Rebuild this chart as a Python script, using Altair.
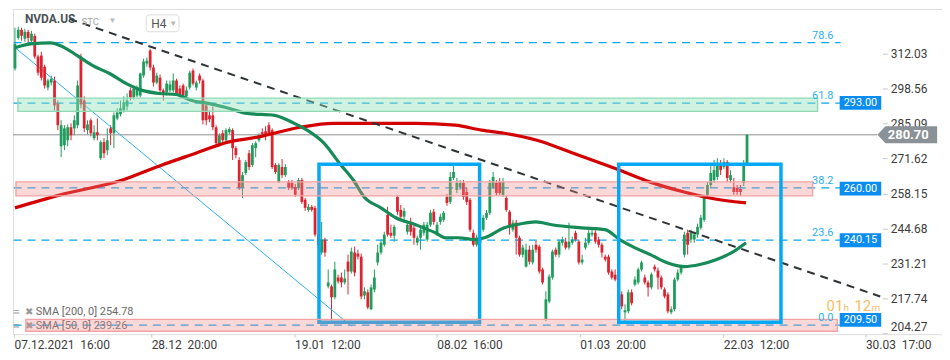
import altair as alt
import pandas as pd

# ---------------- data ----------------
OPEN = [306.2, 318.0, 321.1, 317.7, 320.3, 316.9, 318.8, 310.8, 311.2, 306.9,
        298.9, 300.8, 301.6, 292.8, 276.3, 276.7, 278.6, 283.6, 283.2, 284.4,
        310.8, 293.9, 282.5, 286.3, 279.4, 281.7, 271.7, 277.9, 274.8, 283.2,
        281.3, 287.0, 288.6, 290.1, 291.6, 297.8, 295.1, 295.8, 295.8, 303.5,
        308.1, 313.1, 306.6, 300.8, 302.7, 297.8, 297.0, 297.8, 297.8, 301.6,
        298.5, 299.7, 295.5, 298.9, 305.4, 298.9, 303.5, 301.6, 292.0, 288.2,
        288.2, 283.6, 276.7, 281.3, 278.6, 281.7, 282.5, 275.6, 271.0, 260.3,
        266.0, 273.6, 269.1, 275.6, 278.6, 281.7, 282.1, 284.4, 282.5, 269.1,
        262.5, 268.3, 265.2, 262.5, 262.2, 260.6, 260.3, 263.3, 255.7, 251.8,
        253.0, 252.6, 242.3, 235.4, 240.4, 222.4, 222.4, 218.2, 225.8, 225.8,
        223.9, 231.9, 228.1, 235.4, 235.0, 233.8, 218.9, 220.1, 213.6, 221.2,
        231.6, 235.4, 238.4, 249.9, 243.0, 241.9, 256.8, 251.8, 249.2, 243.4,
        247.2, 244.9, 239.2, 241.1, 243.0, 240.4, 246.1, 251.1, 243.0, 247.2,
        248.0, 256.8, 254.9, 264.1, 259.5, 260.6, 262.2, 258.7, 255.7, 243.0,
        238.4, 239.2, 244.2, 248.8, 250.7, 260.6, 262.2, 262.5, 257.6, 256.4,
        251.1, 244.2, 246.9, 241.1, 234.6, 230.0, 236.5, 231.6, 238.4, 237.7,
        228.9, 209.7, 216.6, 225.8, 236.5, 234.6, 239.2, 239.6, 237.3, 239.2,
        243.0, 239.6, 231.6, 237.3, 239.2, 242.3, 243.0, 240.4, 238.4, 233.8,
        233.8, 228.1, 226.9, 223.9, 219.3, 212.4, 212.8, 220.1, 223.1, 223.9,
        228.9, 225.8, 223.9, 222.0, 230.0, 228.5, 225.8, 221.2, 219.3, 212.4,
        213.6, 225.0, 227.7, 234.6, 243.0, 240.4, 240.4, 242.3, 244.9, 248.0,
        257.6, 261.4, 263.3, 264.5, 269.1, 268.3, 270.2, 263.3, 260.6, 260.3,
        259.9, 262.2, 269.8]

CLOSE = [315.7, 321.1, 318.8, 320.3, 318.0, 319.6, 310.8, 304.6, 302.7, 299.7,
         301.6, 302.3, 292.0, 284.4, 284.4, 283.2, 283.6, 280.5, 286.3, 299.7,
         292.4, 283.2, 284.7, 281.3, 281.7, 280.5, 277.9, 273.6, 278.6, 281.3,
         288.2, 289.3, 290.9, 293.2, 293.9, 295.1, 298.5, 298.5, 304.3, 308.9,
         309.2, 306.6, 300.8, 303.5, 297.8, 296.6, 300.4, 300.1, 301.6, 296.6,
         295.8, 295.8, 297.8, 304.6, 300.4, 300.8, 301.6, 286.3, 286.3, 286.7,
         283.6, 277.5, 280.5, 278.6, 282.5, 282.9, 275.6, 272.9, 260.3, 265.2,
         270.2, 268.3, 276.7, 277.5, 280.5, 280.9, 280.5, 281.3, 268.3, 266.4,
         269.1, 265.2, 268.3, 260.3, 260.3, 257.6, 263.3, 254.9, 252.6, 253.0,
         251.8, 242.3, 238.4, 240.4, 235.4, 223.9, 218.2, 228.9, 224.3, 223.9,
         225.4, 228.1, 235.8, 227.7, 233.8, 218.5, 220.5, 214.3, 222.0, 225.8,
         235.4, 239.2, 242.3, 242.3, 241.9, 245.3, 251.1, 249.2, 251.4, 246.1,
         243.4, 241.1, 241.1, 244.2, 246.1, 246.1, 250.7, 247.2, 246.1, 249.2,
         250.7, 254.5, 264.5, 266.4, 262.2, 262.2, 256.8, 254.9, 244.2, 238.4,
         241.1, 241.1, 248.8, 250.7, 262.2, 264.5, 258.3, 258.3, 262.5, 251.8,
         245.3, 246.9, 241.1, 234.6, 237.3, 236.5, 231.9, 236.5, 236.5, 228.1,
         223.9, 217.4, 226.2, 235.8, 234.6, 239.6, 240.4, 237.3, 239.6, 240.4,
         240.4, 231.6, 232.7, 239.2, 243.0, 243.0, 239.6, 238.4, 235.4, 232.7,
         227.7, 225.8, 225.0, 221.2, 214.7, 213.2, 220.1, 215.9, 225.0, 228.9,
         231.6, 223.9, 222.0, 227.0, 228.9, 225.8, 222.0, 218.5, 212.8, 213.6,
         225.0, 227.7, 229.6, 242.3, 238.4, 243.0, 242.3, 245.3, 248.8, 256.8,
         261.4, 266.0, 267.1, 269.8, 267.1, 270.2, 264.1, 265.2, 258.7, 258.7,
         258.7, 269.8, 280.7]

HIGH = [321.9, 322.3, 321.9, 321.5, 321.1, 320.7, 319.6, 311.5, 312.7, 307.7,
        302.3, 303.5, 303.1, 293.9, 286.3, 284.4, 284.7, 285.1, 288.2, 301.6,
        311.9, 295.5, 286.3, 287.0, 284.4, 287.0, 278.6, 279.4, 283.2, 284.4,
        289.3, 290.9, 293.9, 295.5, 296.6, 298.9, 299.3, 299.7, 304.6, 310.0,
        310.4, 313.8, 307.7, 304.6, 303.9, 298.5, 301.6, 301.6, 304.3, 302.3,
        299.7, 300.4, 299.3, 305.4, 306.2, 301.6, 304.3, 302.3, 292.8, 290.1,
        291.6, 284.4, 281.3, 282.5, 283.2, 283.6, 283.2, 276.3, 272.1, 266.4,
        271.0, 274.8, 277.5, 278.2, 281.3, 283.2, 284.0, 285.5, 283.2, 269.8,
        269.8, 271.4, 269.4, 263.3, 263.3, 261.8, 264.1, 264.1, 256.4, 254.1,
        253.7, 253.4, 243.0, 247.2, 241.1, 228.9, 223.1, 231.9, 226.9, 227.7,
        228.9, 234.6, 237.3, 237.7, 236.5, 235.0, 222.0, 221.2, 223.1, 228.9,
        238.4, 240.4, 243.4, 253.0, 246.1, 246.1, 257.6, 253.7, 252.6, 247.2,
        248.8, 246.5, 241.9, 245.3, 247.2, 247.2, 251.8, 252.2, 247.2, 250.3,
        251.4, 257.9, 266.4, 268.7, 264.1, 263.3, 263.3, 260.3, 256.4, 244.2,
        242.3, 244.2, 249.9, 251.8, 263.3, 266.4, 263.3, 264.1, 264.1, 257.2,
        251.8, 248.0, 248.0, 241.9, 238.4, 238.8, 238.1, 238.4, 240.0, 238.4,
        229.6, 220.5, 227.0, 236.5, 237.3, 240.4, 241.5, 241.1, 246.9, 241.5,
        243.8, 240.4, 234.6, 241.1, 244.2, 244.9, 244.2, 241.5, 239.2, 234.6,
        234.6, 228.9, 228.9, 225.0, 220.5, 215.5, 221.2, 221.2, 226.2, 229.6,
        232.3, 226.9, 224.7, 227.7, 230.8, 229.6, 226.6, 222.0, 220.1, 214.7,
        225.8, 228.9, 230.8, 243.4, 244.2, 244.2, 243.4, 246.5, 249.9, 257.6,
        262.5, 269.1, 271.0, 271.7, 271.0, 271.7, 271.0, 267.1, 264.1, 261.4,
        261.4, 271.0, 281.0]

LOW = [305.4, 317.3, 316.9, 316.5, 315.3, 315.3, 310.0, 303.5, 301.6, 298.5,
       297.8, 299.7, 290.1, 282.5, 272.1, 274.8, 276.3, 278.6, 280.5, 283.2,
       290.9, 281.7, 280.9, 280.1, 278.6, 278.6, 271.0, 271.7, 272.9, 276.7,
       275.6, 286.3, 287.8, 289.3, 290.1, 293.9, 294.3, 295.1, 295.1, 302.7,
       306.9, 305.4, 299.3, 300.1, 296.6, 293.9, 295.8, 297.0, 297.0, 295.8,
       295.1, 294.7, 294.3, 298.1, 299.7, 297.8, 300.4, 284.7, 284.4, 285.5,
       282.5, 276.3, 276.3, 277.9, 277.9, 280.9, 271.0, 271.7, 259.5, 256.4,
       265.2, 267.1, 268.3, 272.1, 277.9, 279.8, 278.6, 280.5, 267.5, 265.6,
       262.2, 264.1, 264.5, 259.5, 259.5, 256.8, 259.5, 254.1, 251.4, 251.1,
       251.1, 241.5, 237.3, 234.6, 233.8, 221.6, 209.3, 217.4, 223.5, 222.0,
       223.1, 219.3, 227.3, 226.2, 232.7, 217.4, 217.4, 213.6, 213.2, 220.1,
       230.4, 234.6, 237.7, 241.5, 241.1, 239.6, 249.9, 248.0, 247.2, 242.3,
       241.9, 238.4, 238.1, 236.5, 241.9, 239.6, 245.3, 246.1, 241.9, 246.1,
       247.2, 253.4, 254.1, 263.3, 258.3, 259.5, 255.7, 253.7, 243.4, 237.7,
       237.7, 238.1, 243.4, 248.0, 249.9, 259.9, 257.2, 257.6, 256.8, 251.1,
       242.3, 243.4, 234.6, 233.8, 233.5, 229.6, 230.8, 230.8, 235.4, 227.3,
       223.1, 209.0, 215.9, 225.0, 233.8, 233.5, 238.1, 236.5, 236.5, 238.4,
       239.6, 230.8, 230.8, 236.5, 238.4, 241.5, 238.8, 237.3, 233.5, 231.9,
       226.9, 225.0, 224.3, 217.4, 213.6, 209.0, 212.0, 215.1, 222.4, 223.1,
       228.1, 223.1, 218.5, 221.2, 228.1, 221.2, 221.2, 217.8, 212.0, 211.7,
       212.8, 224.3, 226.9, 233.5, 234.6, 239.2, 239.2, 241.1, 244.2, 247.2,
       256.8, 260.3, 262.2, 263.3, 265.2, 267.5, 262.5, 262.2, 257.6, 257.6,
       257.2, 261.0, 269.1]

SMA200_I = [0, 13.8, 32.6, 44.6, 54.8, 64.6, 73.6, 86.5, 96.6, 121.5, 133.5, 141.5,
            148.4, 158.3, 168.5, 183.4, 192.7, 202.9, 210.7, 221.7]
SMA200_V = [252.6, 257.6, 263.3, 269.1, 273.6, 277.9, 279.8, 283.6, 285.1, 285.1, 284.4, 282.5,
            281.3, 278.6, 274.0, 267.1, 262.5, 258.7, 256.4, 254.5]

SMA50_I = [0, 4.8, 10.8, 13.8, 18.9, 23.6, 28.7, 33.8, 38.6, 43.7, 48.8, 53.6, 58.6, 63.7,
           70.6, 78.7, 84.7, 88.6, 93.7, 98.4, 102.6, 105.9, 111.0, 115.5, 121.5, 127.5,
           130.5, 134.4, 139.4, 142.4, 148.4, 152.0, 158.0, 162.8, 171.8, 178.9, 183.4,
           187.9, 192.7, 197.8, 202.9, 207.7, 212.8, 217.9, 221.7]
SMA50_V = [314.2, 315.7, 316.1, 315.0, 311.2, 307.3, 304.3, 300.4, 297.8, 296.6, 296.2, 293.9,
           292.8, 291.3, 288.9, 288.2, 285.1, 282.5, 277.5, 269.8, 263.3, 256.8, 252.6, 248.8,
           246.1, 243.0, 241.1, 241.1, 240.4, 241.1, 244.9, 246.1, 247.2, 246.1, 244.9, 244.2,
           240.4, 237.3, 234.6, 231.5, 230.0, 230.8, 232.7, 235.8, 239.2]

TREND_I = [16.5, 262.4]
TREND_V = [325.3, 218.5]
DIAG_I = [0, 102]
DIAG_V = [314.3, 207.1]

FIB_NAMES = ["78.6", "61.8", "38.2", "23.6", "0.0"]
FIB_LEVELS = [316.2, 292.9, 260.3, 240.15, 207.5]

TAG_VALUES = [293.00, 260.00, 240.15, 209.50]
LAST_PRICE = 280.70

Y_TICKS = [204.27, 217.74, 231.21, 244.68, 258.15, 271.62, 285.09, 298.56, 312.03]
X_TICK_POS = [-0.3, 41.3, 84.8, 127.9, 171.3, 214.8, 257.9]
NB = "\u00a0\u00a0"
X_TICK_LABELS = ["07.12.2021" + NB + "16:00", "28.12" + NB + "20:00", "19.01" + NB + "12:00",
                 "08.02" + NB + "16:00", "01.03" + NB + "20:00", "22.03" + NB + "12:00",
                 "30.03" + NB + "17:00"]

GREEN_ZONE = [0.9, 243.4, 289.7, 294.8]
PINK_ZONES = [[0.3, 241.9, 257.2, 262.6], [3.3, 249.4, 205.1, 209.7]]
BOX1 = [92.2, 140.9, 208.6, 269.4]
BOX2 = [183.1, 232.3, 208.6, 269.4]

# ---------------- styling ----------------
GREEN = "#1f9d5c"
RED = "#dc2430"
FONT = "Roboto"
W, H = 934, 327

xs = alt.Scale(domain=[-0.603, 281.13], nice=False, zero=False, padding=0)
ys = alt.Scale(domain=[204.0, 329.14], nice=False, zero=False, padding=0)

label_expr = " : ".join(
    f"abs(datum.value - ({p})) < 0.5 ? '{l}'" for p, l in zip(X_TICK_POS, X_TICK_LABELS)
) + " : ''"

xaxis = alt.Axis(values=X_TICK_POS, labelExpr=label_expr, grid=False, domain=False,
                 tickSize=3, tickColor="#c8c8c8", labelAlign="left", labelPadding=2,
                 labelFontSize=12, labelColor="#3c3c3c", labelFont=FONT,
                 labelOverlap=False, labelFlush=False, labelBound=False, title=None)
yaxis = alt.Axis(orient="right", offset=-60, values=Y_TICKS, format=".2f", grid=False,
                 domain=False, tickSize=5, tickColor="#c8c8c8", labelPadding=3,
                 labelFontSize=12, labelColor="#3c3c3c", labelFont=FONT,
                 labelFlush=5, labelOverlap=False, title=None)

df = pd.DataFrame({"open": OPEN, "high": HIGH, "low": LOW, "close": CLOSE})
df["i"] = range(len(df))
df["dir"] = ["up" if c >= o else "down" for o, c in zip(OPEN, CLOSE)]
color = alt.Color("dir:N", scale=alt.Scale(domain=["up", "down"], range=[GREEN, RED]), legend=None)

one = pd.DataFrame({"a": [0]})


def X(f):
    return alt.X(f, scale=xs, axis=xaxis)


def Y(f):
    return alt.Y(f, scale=ys, axis=yaxis)


# gray last-price line
last_line = alt.Chart(pd.DataFrame({"x0": [-0.6], "x1": [261.5], "v": [LAST_PRICE]})).mark_rule(
    color="#8d8d8d", strokeWidth=1).encode(x=X("x0:Q"), x2="x1:Q", y=Y("v:Q"))

fib_df = pd.DataFrame({"name": FIB_NAMES, "level": FIB_LEVELS})
fib_df["x0"] = -0.4
fib_df["x1"] = 250.4
fib_df["lx"] = 248.2
fib_lines = alt.Chart(fib_df).mark_rule(color="#0aa5ef", strokeWidth=1.3, strokeDash=[8, 6]).encode(
    x=X("x0:Q"), x2="x1:Q", y=Y("level:Q"))

diag = alt.Chart(pd.DataFrame({"i": DIAG_I, "v": DIAG_V})).mark_line(
    color="#2bb0ec", strokeWidth=1).encode(x=X("i:Q"), y=Y("v:Q"))

wick = alt.Chart(df).mark_rule(strokeWidth=1).encode(
    x=X("i:Q"), y=Y("low:Q"), y2="high:Q", color=color)
body = alt.Chart(df).mark_bar(size=2.8).encode(
    x=X("i:Q"), y=Y("open:Q"), y2="close:Q", color=color)

sma200 = alt.Chart(pd.DataFrame({"i": SMA200_I, "v": SMA200_V})).mark_line(
    color="#d40000", strokeWidth=3.2, interpolate="monotone").encode(x=X("i:Q"), y=Y("v:Q"))
sma50 = alt.Chart(pd.DataFrame({"i": SMA50_I, "v": SMA50_V})).mark_line(
    color="#168a57", strokeWidth=3.2, interpolate="monotone").encode(x=X("i:Q"), y=Y("v:Q"))

trend = alt.Chart(pd.DataFrame({"i": TREND_I, "v": TREND_V})).mark_line(
    color="#2f3437", strokeWidth=2, strokeDash=[8, 6]).encode(x=X("i:Q"), y=Y("v:Q"))


def box(b):
    d = pd.DataFrame({"x0": [b[0]], "x1": [b[1]], "lo": [b[2]], "hi": [b[3]]})
    return alt.Chart(d).mark_rect(fillOpacity=0, stroke="#03a9f4", strokeWidth=3.5).encode(
        x=X("x0:Q"), x2="x1:Q", y=Y("lo:Q"), y2="hi:Q")


def txt(t, x, y, size=11, color="#777", weight="normal", align="left", opacity=1.0,
        baseline="middle"):
    return alt.Chart(one).mark_text(text=t, fontSize=size, color=color, font=FONT,
                                    fontWeight=weight, align=align, baseline=baseline,
                                    opacity=opacity).encode(x=alt.value(x), y=alt.value(y))


legend_layers = [
    txt("≡", 0, 305, 12, "#9a9a9a"), txt("✖", 12, 305, 10, "#9a9a9a"),
    txt("SMA [200,  0]  254.78", 23, 305, 11, "#6a6a6a"),
    txt("≡", 0, 319, 12, "#9a9a9a"), txt("✖", 12, 319, 10, "#9a9a9a"),
    txt("SMA [50,  0]  239.26", 23, 319, 11, "#6a6a6a"),
]

gz = pd.DataFrame({"x0": [GREEN_ZONE[0]], "x1": [GREEN_ZONE[1]], "lo": [GREEN_ZONE[2]], "hi": [GREEN_ZONE[3]]})
green_zone = alt.Chart(gz).mark_rect(fill="#8fdfb8", fillOpacity=0.42, stroke="#8fdab5",
                                     strokeWidth=1.4).encode(x=X("x0:Q"), x2="x1:Q", y=Y("lo:Q"), y2="hi:Q")
pz = pd.DataFrame(PINK_ZONES, columns=["x0", "x1", "lo", "hi"])
pink_zone = alt.Chart(pz).mark_rect(fill="#f08a8a", fillOpacity=0.33, stroke="#f3a3a3",
                                    strokeWidth=1.4).encode(x=X("x0:Q"), x2="x1:Q", y=Y("lo:Q"), y2="hi:Q")

fib_labels = alt.Chart(fib_df).mark_text(align="right", baseline="bottom", dy=-2, fontSize=11,
                                         color="#2bb0f0", font=FONT).encode(
    x=X("lx:Q"), y=Y("level:Q"), text="name:N")

countdown = [
    txt("01", 818, 304, 15, "#f5a21b", opacity=0.7, baseline="alphabetic"),
    txt("h", 835, 304, 10, "#f5a21b", opacity=0.7, baseline="alphabetic"),
    txt("12", 846, 304, 15, "#f5a21b", opacity=0.7, baseline="alphabetic"),
    txt("m", 863, 304, 10, "#f5a21b", opacity=0.7, baseline="alphabetic"),
]

tag_df = pd.DataFrame({"v": TAG_VALUES})
tag_df["lo"] = tag_df["v"] - 2.68
tag_df["hi"] = tag_df["v"] + 2.68
tag_df["x0"] = 250.1
tag_df["x1"] = 262.7
tag_df["xc"] = 256.4
tag_df["label"] = [f"{v:.2f}" for v in TAG_VALUES]
tags = alt.Chart(tag_df).mark_rect(color="#0b8cf0").encode(
    x=X("x0:Q"), x2="x1:Q", y=Y("lo:Q"), y2="hi:Q")
tag_text = alt.Chart(tag_df).mark_text(color="white", fontSize=11, font=FONT).encode(
    x=X("xc:Q"), y=Y("v:Q"), text="label:N")

last_df = pd.DataFrame({"x": [270.6], "v": [LAST_PRICE], "label": [f"{LAST_PRICE:.2f}"]})
last_tag = alt.Chart(last_df).mark_point(
    shape="M1,-0.283L-0.733,-0.283L-1,0L-0.733,0.283L1,0.283Z", size=3600, filled=True,
    color="#8a9297", opacity=1, strokeWidth=0).encode(x=X("x:Q"), y=Y("v:Q"))
last_text = alt.Chart(last_df).mark_text(color="white", fontSize=13, fontWeight="bold",
                                         font=FONT, dx=1).encode(x=X("x:Q"), y=Y("v:Q"), text="label:N")

h4_box = alt.Chart(one).mark_rect(fill="white", stroke="#dcdcdc", strokeWidth=1,
                                  cornerRadius=3).encode(
    x=alt.value(134), x2=alt.value(167), y=alt.value(6), y2=alt.value(23))
header = [
    txt("NVDA.US", 12, 10, 12, "#4b5257", weight="bold"),
    txt("STC", 69, 13, 9.5, "#a0a8ad"),
    txt("▼", 96, 12, 8, "#b5b9bc"),
    h4_box,
    txt("H4", 139, 15, 12, "#555"),
    txt("▼", 157, 15, 8, "#b5b9bc"),
]

chart = alt.layer(
    wick, last_line, fib_lines, diag, body, sma200, sma50, trend, box(BOX1),
    *legend_layers, green_zone, pink_zone, box(BOX2), fib_labels, *countdown,
    tags, tag_text, last_tag, last_text, *header
).properties(width=W, height=H, padding=0).configure_view(strokeWidth=0).configure(
    font=FONT, background="white")

chart.save("out.html", embed_options={"renderer": "svg", "actions": False})
